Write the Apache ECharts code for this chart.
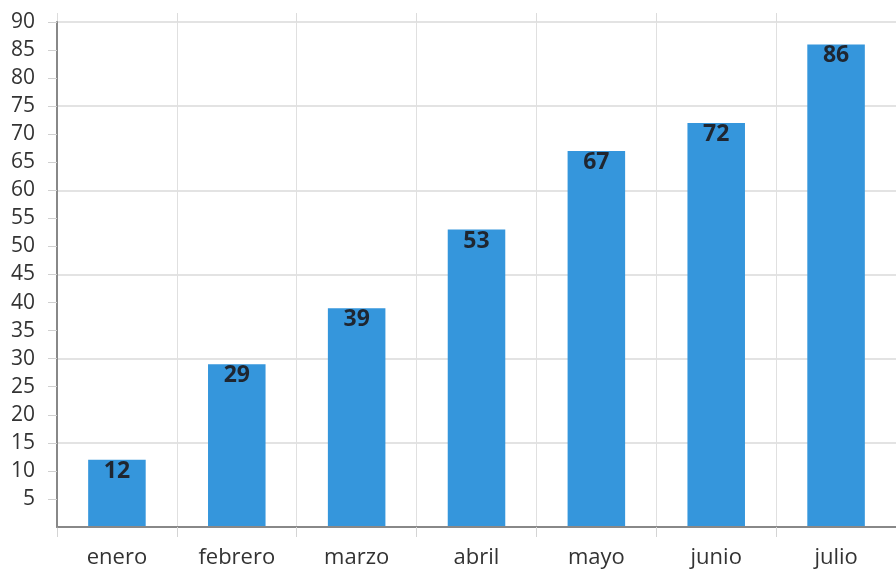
<!DOCTYPE html>
<html>
<head>
    <meta charset="utf-8">
    <title>ECharts</title>
    <script src="https://cdn.jsdelivr.net/npm/echarts@6/dist/echarts.min.js"></script>
    <style>
        html, body { margin: 0; padding: 0; background: #fff; }
    </style>
</head>
<body>
    <div id="main" style="width: 896px;height:573px;"></div>
    <script type="text/javascript">
        // datos del grafico
        var meses = ['enero', 'febrero', 'marzo', 'abril', 'mayo', 'junio', 'julio'];
        var valores = [12, 29, 39, 53, 67, 72, 86];

        var myChart = echarts.init(document.getElementById('main'));

        var fuente = '"Open Sans", sans-serif';

        option = {
            animation: false,
            grid: {
                left: 57,
                right: -1,
                top: 22,
                bottom: 46
            },
            xAxis: [
                {
                    type: 'category',
                    data: meses,
                    z: 3,
                    axisLine: { lineStyle: { color: '#888', width: 2 } },
                    axisTick: { show: true, length: 10, lineStyle: { color: '#d4d4d4', width: 1 } },
                    axisLabel: { color: '#333', fontSize: 22, fontFamily: fuente, margin: 20 },
                    splitLine: { show: true, lineStyle: { color: '#e0e0e0' } }
                },
                {
                    // solo para las marcas que sobresalen arriba
                    type: 'category',
                    data: meses,
                    position: 'top',
                    axisLine: { show: true, onZero: false, lineStyle: { color: 'rgba(0,0,0,0)' } },
                    axisTick: { show: true, length: 9, lineStyle: { color: '#dcdcdc', width: 1 } },
                    axisLabel: { show: false }
                }
            ],
            yAxis: [
                {
                    type: 'value',
                    min: 0,
                    max: 90,
                    interval: 5,
                    z: 4,
                    axisLine: { show: true, lineStyle: { color: '#888', width: 2 } },
                    axisTick: { show: true, length: 9, lineStyle: { color: '#d0d0d0', width: 1 } },
                    axisLabel: { color: '#333', fontSize: 21, fontFamily: fuente, margin: 22, showMinLabel: false },
                    splitLine: { show: false }
                },
                {
                    // lineas de la cuadricula cada 15
                    type: 'value',
                    min: 0,
                    max: 90,
                    interval: 15,
                    position: 'left',
                    axisLine: { show: false },
                    axisTick: { show: false },
                    axisLabel: { show: false },
                    splitLine: { show: true, lineStyle: { color: '#e3e3e3', width: 2 } }
                }
            ],
            series: [
                {
                    type: 'bar',
                    data: valores,
                    barWidth: '48%',
                    itemStyle: { color: '#3596dc' },
                    label: {
                        show: true,
                        position: 'insideTop',
                        distance: 0,
                        color: '#1f2630',
                        fontWeight: 'bold',
                        fontSize: 23,
                        fontFamily: fuente
                    }
                }
            ]
        };

        myChart.setOption(option);
    </script>
</body>
</html>
